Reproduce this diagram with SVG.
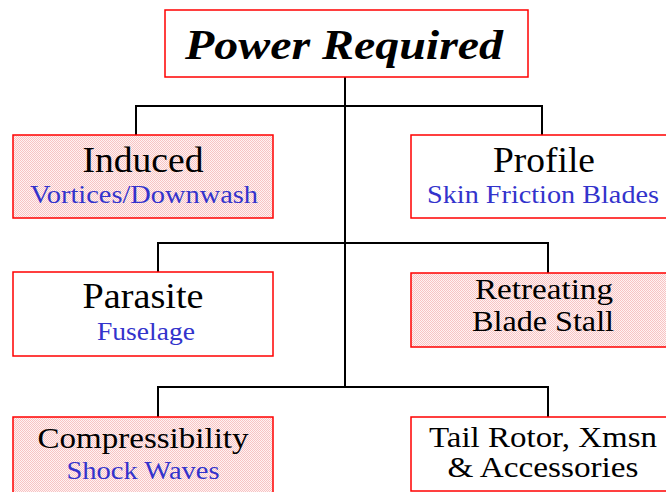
<svg xmlns="http://www.w3.org/2000/svg" width="666" height="492" viewBox="0 0 666 492">
<defs>
<pattern id="dither" width="2" height="2" patternUnits="userSpaceOnUse">
<rect width="2" height="2" fill="#fff2f2"/>
<rect x="0" y="0" width="1" height="1" fill="#f7c4c4"/>
<rect x="1" y="1" width="1" height="1" fill="#f7c4c4"/>
</pattern>
</defs>
<style>
.box{stroke:#ff0000;stroke-width:1.5;fill:#ffffff}
.pink{fill:url(#dither)}
.t{font-family:'Liberation Serif','DejaVu Serif','Noto Serif',serif;text-anchor:middle;fill:#000}
.main{font-size:35px}
.sub{font-size:26px;fill:#3333cc}
.two{font-size:30px}
.title{font-size:43px;font-weight:bold;font-style:italic}
.conn{stroke:#000;stroke-width:2;fill:none}
</style>
<rect width="666" height="492" fill="#ffffff"/>
<g id="connectors">
<path class="conn" d="M345 77V387"/>
<path class="conn" d="M136 135V106H542V135"/>
<path class="conn" d="M158 272V243H548V273"/>
<path class="conn" d="M158 417V387H548V417"/>
</g>
<g id="power-required">
<rect class="box" x="165" y="10" width="363" height="67"/>
<text class="t title" x="344" y="59" textLength="318" lengthAdjust="spacingAndGlyphs">Power Required</text>
</g>
<g id="induced">
<rect class="box pink" x="13" y="135" width="260" height="83"/>
<text class="t main" x="143" y="172" textLength="121" lengthAdjust="spacingAndGlyphs">Induced</text>
<text class="t sub" x="144" y="203" textLength="228" lengthAdjust="spacingAndGlyphs">Vortices/Downwash</text>
</g>
<g id="profile">
<rect class="box" x="411" y="135" width="262" height="83"/>
<text class="t main" x="544" y="172" textLength="102" lengthAdjust="spacingAndGlyphs">Profile</text>
<text class="t sub" x="543" y="203" textLength="232" lengthAdjust="spacingAndGlyphs">Skin Friction Blades</text>
</g>
<g id="parasite">
<rect class="box" x="13" y="272" width="260" height="84"/>
<text class="t main" x="143" y="308" textLength="121" lengthAdjust="spacingAndGlyphs">Parasite</text>
<text class="t sub" x="146" y="340" textLength="98" lengthAdjust="spacingAndGlyphs">Fuselage</text>
</g>
<g id="retreating-blade-stall">
<rect class="box pink" x="411" y="273" width="262" height="74"/>
<text class="t two" x="544" y="299" textLength="138" lengthAdjust="spacingAndGlyphs">Retreating</text>
<text class="t two" x="543" y="331" textLength="142" lengthAdjust="spacingAndGlyphs">Blade Stall</text>
</g>
<g id="compressibility">
<rect class="box pink" x="13" y="417" width="260" height="85"/>
<text class="t two" x="143" y="448" textLength="211" lengthAdjust="spacingAndGlyphs">Compressibility</text>
<text class="t sub" x="143" y="479" textLength="153" lengthAdjust="spacingAndGlyphs">Shock Waves</text>
</g>
<g id="tail-rotor">
<rect class="box" x="411" y="417" width="262" height="74"/>
<text class="t two" x="543" y="447" font-size="29" textLength="228" lengthAdjust="spacingAndGlyphs">Tail Rotor, Xmsn</text>
<text class="t two" x="543" y="477" font-size="29" textLength="191" lengthAdjust="spacingAndGlyphs">&amp; Accessories</text>
</g>
</svg>
